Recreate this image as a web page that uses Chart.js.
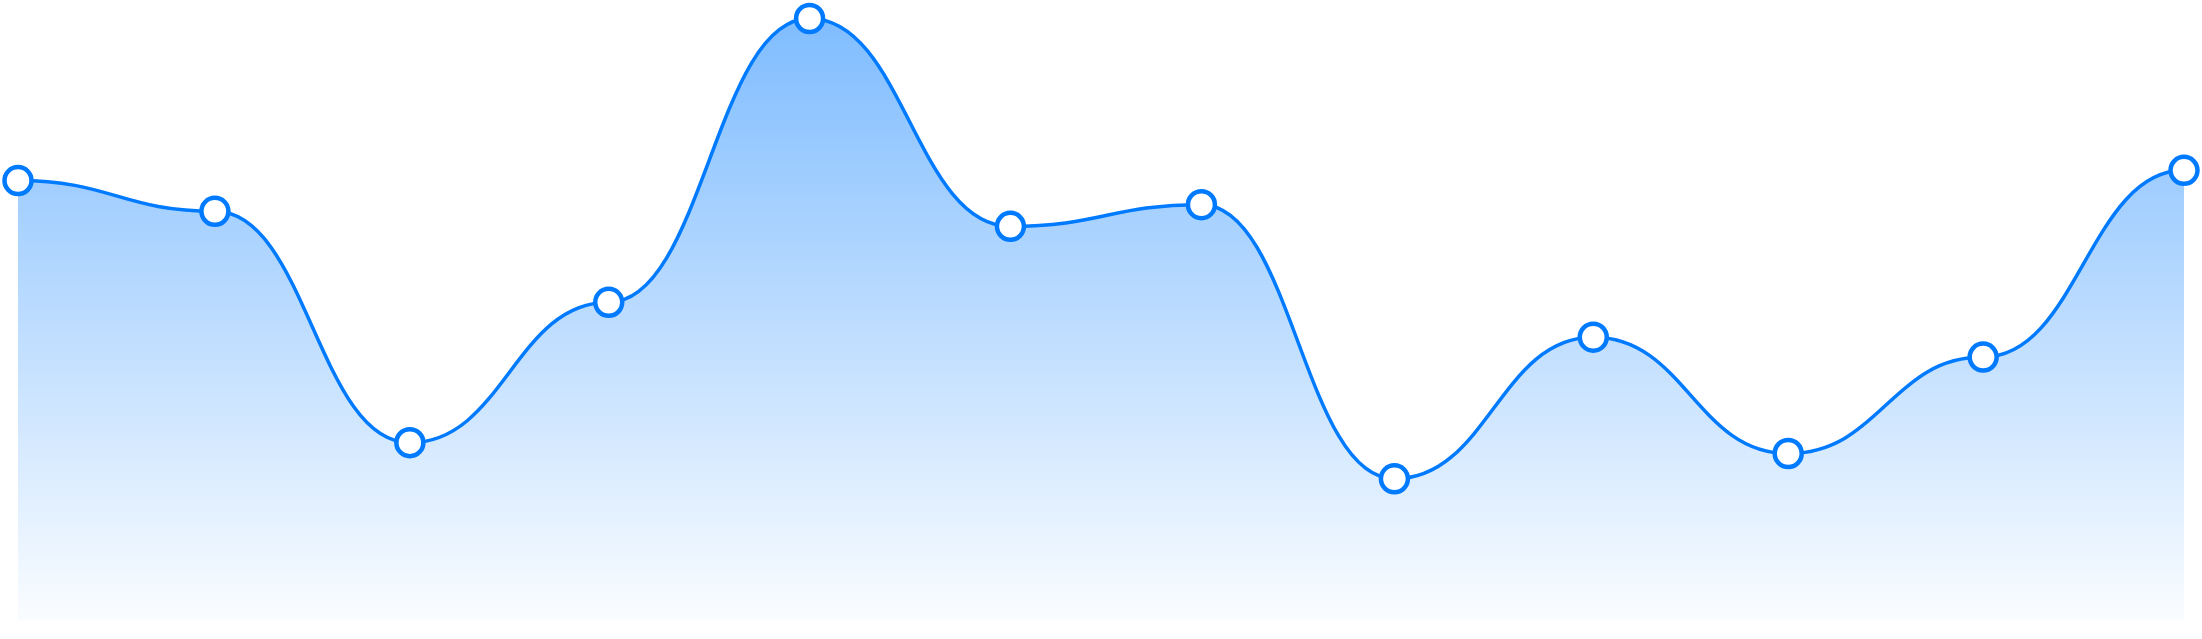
<!DOCTYPE html>
<html>
<head>
<meta charset="utf-8">
<style>
  html, body { margin: 0; padding: 0; background: #ffffff; }
  #wrap { position: relative; width: 2202px; height: 639px; }
</style>
<script src="https://cdn.jsdelivr.net/npm/chart.js@4/dist/chart.umd.min.js"></script>
</head>
<body>
<div id="wrap"><canvas id="c"></canvas></div>
<script>
// Data (x in arbitrary time units, y in arbitrary value units 0-100)
const xValues = [0, 10.0, 19.9, 30.0, 40.2, 50.4, 60.1, 69.9, 80.0, 89.9, 99.8, 110];
const yValues = [73.1, 68.0, 29.6, 52.9, 100, 65.5, 69.1, 23.6, 47.1, 27.8, 43.8, 74.8];

const LINE_COLOR = '#007aff';
const SMOOTH = 0.47; // horizontal control-point length as fraction of segment width

// Smooth curve with horizontal tangents at each point (control points derived from the library's own point positions)
const horizontalSmooth = {
  id: 'horizontalSmooth',
  afterDatasetUpdate(chart, args) {
    const meta = args.meta;
    const pts = meta.data;
    for (let i = 0; i < pts.length; i++) {
      const p = pts[i];
      const prev = pts[i - 1];
      const next = pts[i + 1];
      p.cp1x = prev ? p.x - SMOOTH * (p.x - prev.x) : p.x;
      p.cp1y = p.y;
      p.cp2x = next ? p.x + SMOOTH * (next.x - p.x) : p.x;
      p.cp2y = p.y;
    }
    if (meta.dataset) meta.dataset._pointsUpdated = true;
  }
};

const points = xValues.map((x, i) => ({ x: x, y: yValues[i] }));

new Chart(document.getElementById('c'), {
  type: 'line',
  data: {
    datasets: [{
      data: points,
      borderColor: LINE_COLOR,
      borderWidth: 3.5,
      tension: 0.4,
      fill: 'origin',
      clip: false,
      backgroundColor: (ctx) => {
        const chart = ctx.chart;
        const area = chart.chartArea;
        if (!area) return 'rgba(0,122,255,0.3)';
        const g = chart.ctx.createLinearGradient(0, area.top, 0, area.bottom);
        g.addColorStop(0, 'rgba(0,122,255,0.5)');
        g.addColorStop(1, 'rgba(0,122,255,0.02)');
        return g;
      },
      pointRadius: 13.5,
      pointHoverRadius: 13.5,
      pointBorderWidth: 4.5,
      pointHoverBorderWidth: 4.5,
      pointBackgroundColor: '#ffffff',
      pointBorderColor: LINE_COLOR,
      pointHoverBackgroundColor: '#ffffff',
      pointHoverBorderColor: LINE_COLOR
    }]
  },
  options: {
    responsive: true,
    maintainAspectRatio: false,
    animation: false,
    events: [],
    layout: { padding: { left: 17.6, right: 16.2, top: 18.5, bottom: 0 } },
    plugins: { legend: { display: false }, tooltip: { enabled: false } },
    scales: {
      x: { type: 'linear', min: 0, max: 110, display: false },
      y: { min: 0, max: 100, display: false }
    }
  },
  plugins: [horizontalSmooth]
});
</script>
</body>
</html>
